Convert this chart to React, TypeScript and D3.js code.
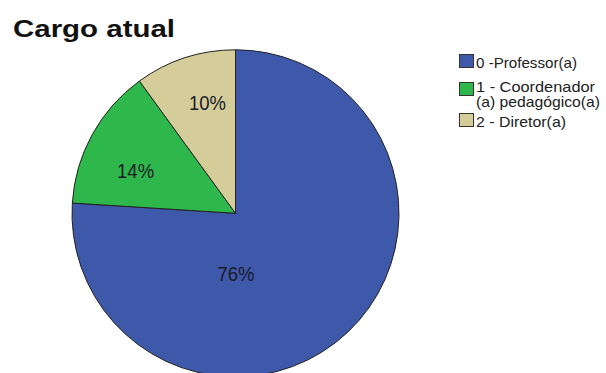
import React from "react";
import * as d3 from "d3";

const categories = ["0 -Professor(a)", "1 - Coordenador (a) pedagógico(a)", "2 - Diretor(a)"];
const legendLines = [["0 -Professor(a)"], ["1 - Coordenador", "(a) pedagógico(a)"], ["2 - Diretor(a)"]];
const values = [76, 14, 10];
const percentLabels = ["76%", "14%", "10%"];
const colors = ["#3E58AA", "#2EB84B", "#D4CD9A"];
// label placement inside each slice: angle (deg, clockwise from top) and radius fraction
const labelAngles = [179.5, 293.2, 345.9];
const labelRadii = [0.368, 0.665, 0.702];

const W = 606;
const H = 373;
const cx = 235.5;
const cy = 213.3;
const R = 163.5;

export default function App() {
  const pie = d3.pie<number>().sort(null).value((d) => d).startAngle(0).endAngle(2 * Math.PI);
  const arcs = pie(values);
  const arc = d3.arc<d3.PieArcDatum<number>>().innerRadius(0).outerRadius(R);
  const rScale = d3.scaleLinear().domain([0, 1]).range([0, R]);

  const legendX = 459;
  const boxTops = [54, 82, 113];
  const baselines = [[68], [91.5, 106.5], [127]];
  const widths = [[101], [119, 124], [90]];

  return (
    <svg width={W} height={H} style={{ position: "absolute", left: 0, top: 0, background: "#fff" }}
      fontFamily="'Liberation Sans', Arial, sans-serif">
      <text x={13} y={37} fontSize={24} fontWeight="bold" fill="#111" textLength={162} lengthAdjust="spacingAndGlyphs">
        Cargo atual
      </text>
      <g transform={`translate(${cx},${cy})`}>
        {arcs.map((a, i) => (
          <path key={i} d={arc(a) || ""} fill={colors[i]} stroke="#222" strokeWidth={1} strokeLinejoin="round" />
        ))}
        {arcs.map((a, i) => {
          const ang = (labelAngles[i] * Math.PI) / 180;
          const r = rScale(labelRadii[i]);
          const x = r * Math.sin(ang);
          const y = -r * Math.cos(ang);
          return (
            <text key={"l" + i} x={x} y={y + 8} textAnchor="middle" fontSize={20} fill="#1a1a2a"
              textLength={37} lengthAdjust="spacingAndGlyphs">
              {percentLabels[i]}
            </text>
          );
        })}
      </g>
      <g>
        {categories.map((c, i) => (
          <g key={c}>
            <rect x={legendX + 0.5} y={boxTops[i] + 0.5} width={14} height={13} fill={colors[i]} stroke="#333" strokeWidth={1} />
            <text fontSize={15} fill="#222">
              {legendLines[i].map((ln, j) => (
                <tspan key={j} x={legendX + 17} y={baselines[i][j]}
                  textLength={widths[i][j]} lengthAdjust="spacingAndGlyphs">
                  {ln}
                </tspan>
              ))}
            </text>
          </g>
        ))}
      </g>
    </svg>
  );
}
